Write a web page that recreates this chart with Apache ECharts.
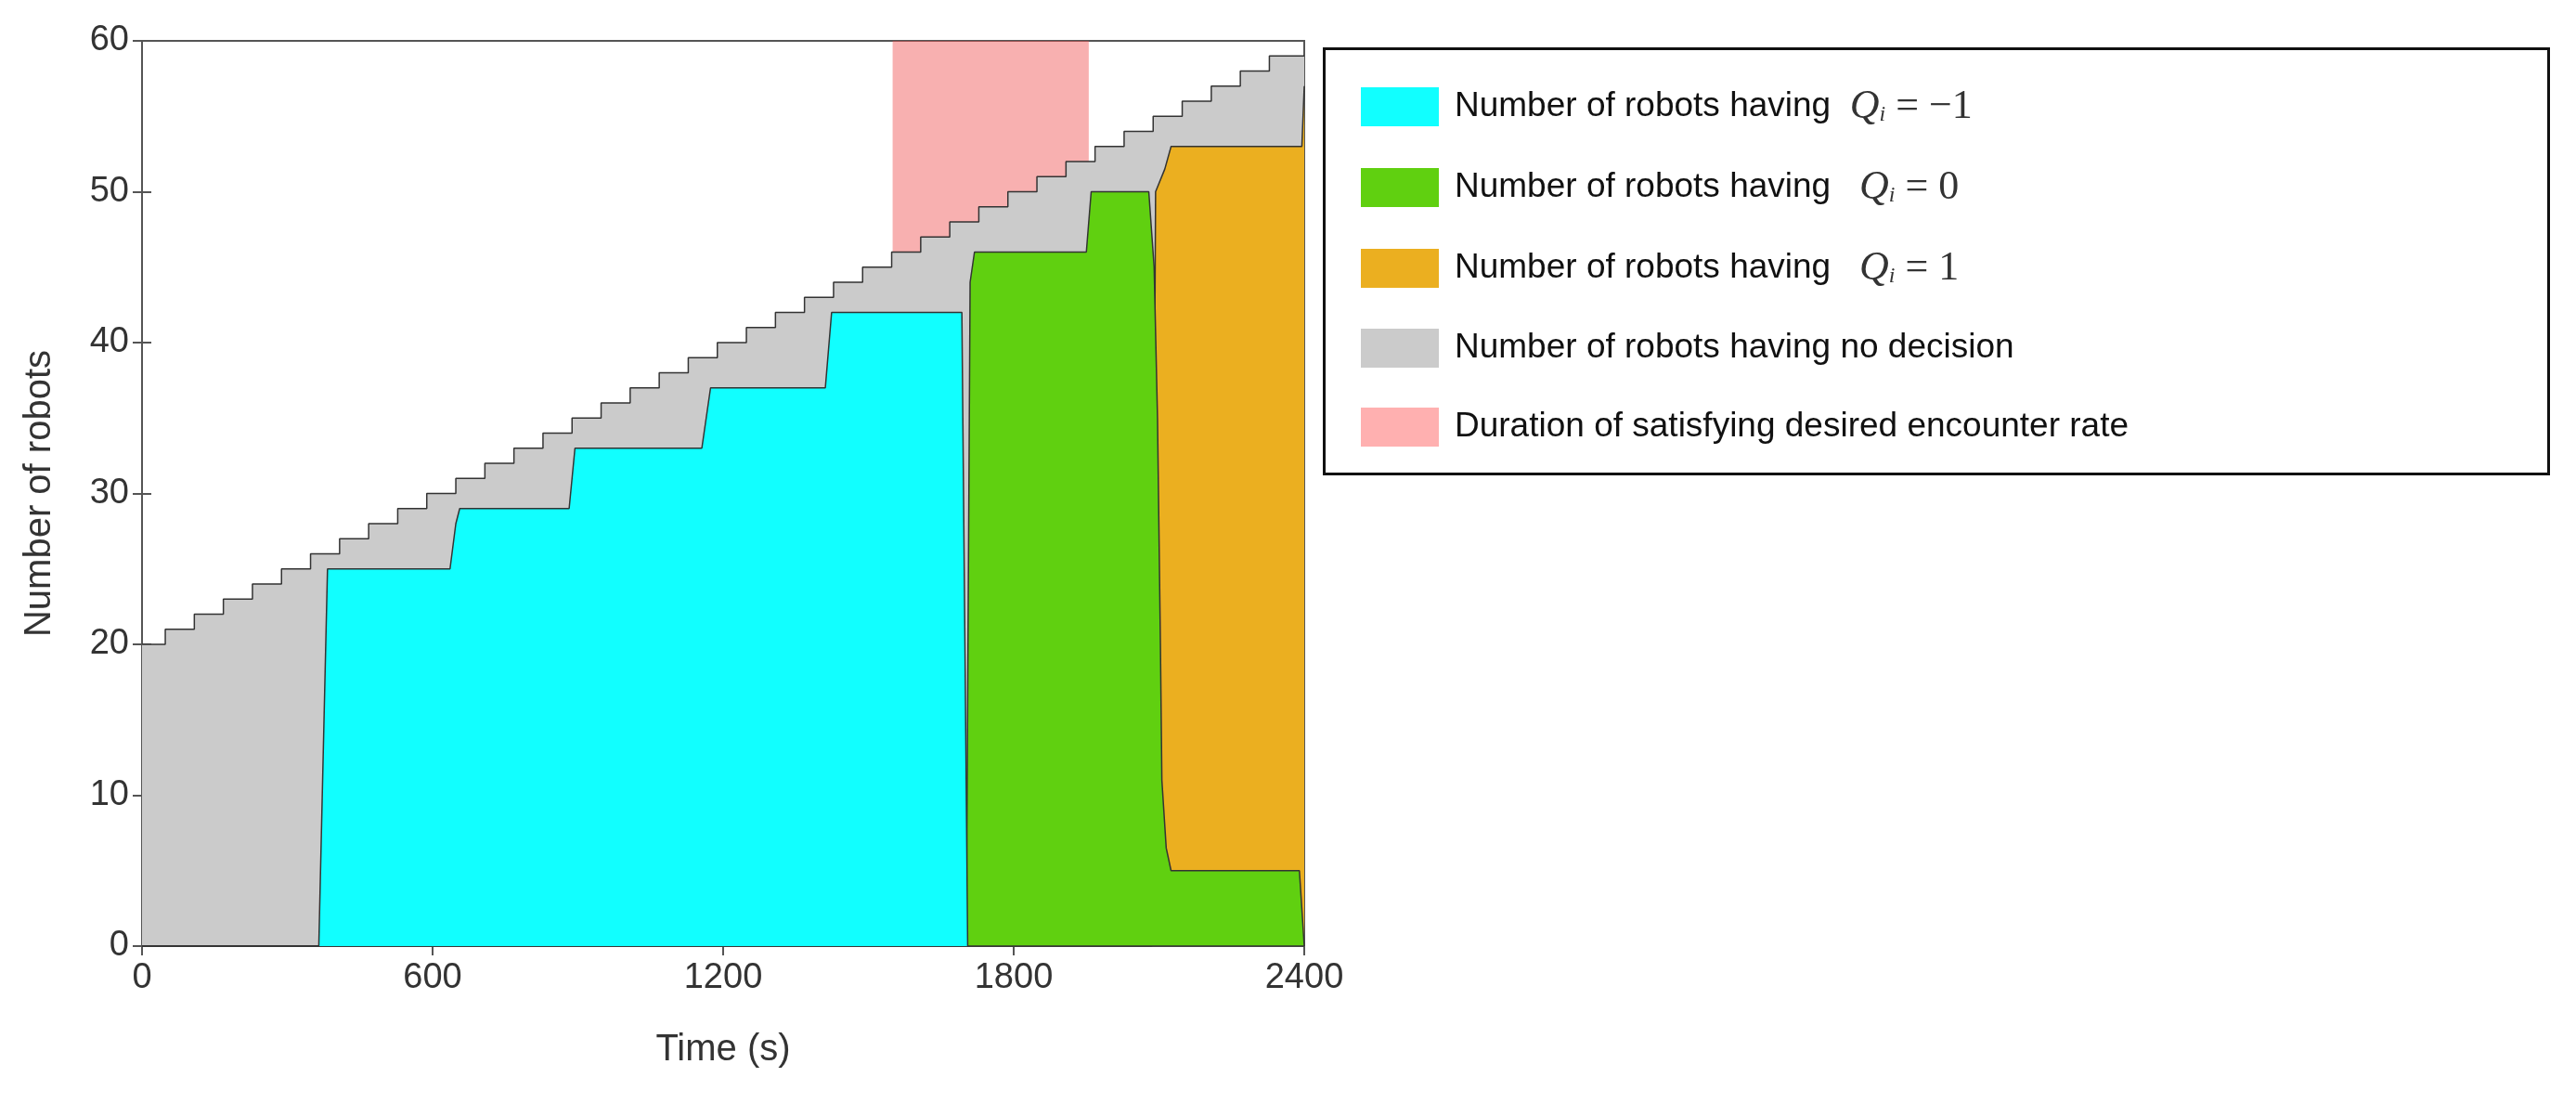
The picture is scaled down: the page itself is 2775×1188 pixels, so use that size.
<!DOCTYPE html>
<html><head><meta charset="utf-8">
<script src="https://cdn.jsdelivr.net/npm/echarts@6/dist/echarts.min.js"></script>
<style>html,body{margin:0;background:#fff}#c{width:2775px;height:1188px}</style>
</head><body><div id="c"></div>
<script>
var totalT = [0,48,108,168,228,288,348,408,468,528,588,648,708,768,828,888,948,1008,1068,1128,1188,1248,1308,1368,1428,1488,1548,1608,1668,1728,1788,1848,1908,1968,2028,2088,2148,2208,2268,2328,2400];
var totalN = [20,21,22,23,24,25,26,27,28,29,30,31,32,33,34,35,36,37,38,39,40,41,42,43,44,45,46,47,48,49,50,51,52,53,54,55,56,57,58,59,59];
var negPts = [[0,0],[365,0],[383,25],[636,25],[648,28],[656,29],[882,29],[894,33],[1156,33],[1174,37],[1411,37],[1424,42],[1693,42],[1705,0],[2400,0]];
var zeroPts = [[0,0],[1702,0],[1710,44],[1719,46],[1950,46],[1960,50],[2079,50],[2090,45],[2097,35],[2103,20],[2106,11],[2115,6.5],[2125,5],[2390,5],[2400,0]];
var onePts = [[0,0],[2085,0],[2093,50],[2112,51.5],[2125,53],[2395,53],[2400,57]];
var duration = [1550, 1955];
var names = ['Number of robots having  {q|Q}{s|i}{e| = \u22121}',
             'Number of robots having   {q|Q}{s|i}{e| = 0}',
             'Number of robots having   {q|Q}{s|i}{e| = 1}',
             'Number of robots having no decision',
             'Duration of satisfying desired encounter rate'];
var keys = ['neg','zero','one','none','dur'];
var colors = ['#11ffff','#60d010','#ebaf20','#cbcbcb','#ffb0b0'];

var chart = echarts.init(document.getElementById('c'));
function area(key, color, pts, extra) {
    var s = {
        name: key, type: 'line', data: pts, symbol: 'none',
        lineStyle: {color: '#333', width: 1.5},
        itemStyle: {color: color},
        areaStyle: {color: color, opacity: 1}
    };
    for (var k in extra) s[k] = extra[k];
    return s;
}
var totalPts = totalT.map(function (t, i) { return [t, totalN[i]]; });
var font = 'Liberation Sans';
var axisCommon = {
    axisLine: {lineStyle: {color: '#555', width: 2}},
    axisTick: {inside: true, length: 10, lineStyle: {color: '#555', width: 2}},
    splitLine: {show: false}
};
var option = {
    animation: false,
    grid: {left: 153, right: 1370, top: 44, bottom: 169, show: true, borderColor: '#555', borderWidth: 2},
    xAxis: [
        Object.assign({type: 'value', min: 0, max: 2400, interval: 600, name: 'Time (s)',
            nameLocation: 'middle', nameGap: 92, nameTextStyle: {fontSize: 40, color: '#333', fontFamily: font},
            axisLabel: {fontSize: 38, color: '#333', margin: 16, fontFamily: font, formatter: function (v) { return String(v); }}}, axisCommon),
        Object.assign({type: 'value', min: 0, max: 2400, interval: 600, position: 'top', axisLabel: {show: false}}, axisCommon)
    ],
    yAxis: [
        Object.assign({type: 'value', min: 0, max: 60, interval: 10, name: 'Number of robots',
            nameLocation: 'middle', nameGap: 90, nameTextStyle: {fontSize: 40, color: '#333', fontFamily: font},
            axisLabel: {fontSize: 38, color: '#333', margin: 14, fontFamily: font}}, axisCommon),
        Object.assign({type: 'value', min: 0, max: 60, interval: 10, position: 'right', axisLabel: {show: false}}, axisCommon)
    ],
    legend: {
        orient: 'vertical', left: 1461, top: 88, itemWidth: 84, itemHeight: 42, itemGap: 43,
        icon: 'rect', selectedMode: false,
        data: keys,
        formatter: function (n) { return names[keys.indexOf(n)]; },
        textStyle: {
            fontSize: 37, color: '#111', fontFamily: font, padding: [0, 0, 0, 12],
            rich: {
                q: {fontSize: 44, fontStyle: 'italic', fontFamily: 'Liberation Serif', color: '#333'},
                s: {fontSize: 24, fontStyle: 'italic', fontFamily: 'Liberation Serif', color: '#333', padding: [18, 0, 0, 0]},
                e: {fontSize: 44, fontFamily: 'Liberation Serif', color: '#333'}
            }
        }
    },
    graphic: [{type: 'rect', left: 1424, top: 50, shape: {width: 1319, height: 458},
        style: {fill: 'none', stroke: '#111', lineWidth: 3}}],
    series: [
        area('none', colors[3], totalPts, {step: 'end', z: 1}),
        area('one', colors[2], onePts, {z: 2}),
        area('zero', colors[1], zeroPts, {z: 3}),
        area('neg', colors[0], negPts, {z: 4}),
        {name: 'dur', type: 'line', data: [], itemStyle: {color: colors[4]}, zlevel: 1,
         markArea: {silent: true, itemStyle: {color: 'rgba(240,80,80,0.45)'},
                    data: [[{xAxis: duration[0], yAxis: 0}, {xAxis: duration[1], yAxis: 60}]]}}
    ]
};
chart.setOption(option);
</script></body></html>
